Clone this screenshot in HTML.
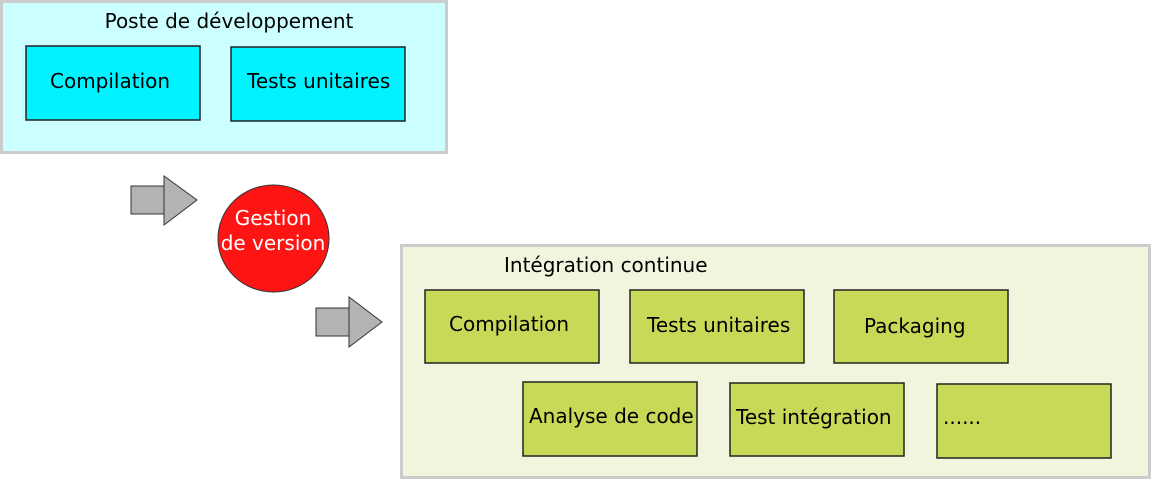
<!DOCTYPE html>
<html><head><meta charset="utf-8"><style>
html,body{margin:0;padding:0;background:#fff;width:1152px;height:480px;overflow:hidden}
text{font-family:"DejaVu Sans","Liberation Sans",sans-serif;font-size:20px;fill:#000}
</style></head><body>
<svg width="1152" height="480" viewBox="0 0 1152 480" xmlns="http://www.w3.org/2000/svg">
<rect x="1.5" y="1.5" width="445" height="151" fill="#ccffff" stroke="#cccccc" stroke-width="3"/>
<text x="229" y="28" text-anchor="middle">Poste de développement</text>
<rect x="26" y="46" width="174" height="74" fill="#00f3ff" stroke="#222" stroke-width="1.5"/>
<text x="50" y="88">Compilation</text>
<rect x="231" y="47" width="174" height="74" fill="#00f3ff" stroke="#222" stroke-width="1.5"/>
<text x="247" y="88">Tests unitaires</text>

<polygon points="131,186 164,186 164,176 197,200 164,225 164,214 131,214" fill="#b3b3b3" stroke="#333" stroke-width="1"/>
<line x1="164" y1="186" x2="164" y2="214" stroke="#333"/>
<ellipse cx="273.5" cy="238.5" rx="55.5" ry="53.5" fill="#ff1414" stroke="#333" stroke-width="1"/>
<text x="273" y="225" text-anchor="middle" style="fill:#fff">Gestion</text>
<text x="273" y="250" text-anchor="middle" style="fill:#fff">de version</text>
<polygon points="316,308 349,308 349,297 382,322 349,347 349,336 316,336" fill="#b3b3b3" stroke="#333" stroke-width="1"/>
<line x1="349" y1="308" x2="349" y2="336" stroke="#333"/>

<rect x="401.5" y="245.5" width="748" height="232" fill="#f2f5dd" stroke="#cccccc" stroke-width="3"/>
<text x="504" y="272">Intégration continue</text>
<g fill="#c8d957" stroke="#222" stroke-width="1.5">
<rect x="425" y="290" width="174" height="73"/>
<rect x="630" y="290" width="174" height="73"/>
<rect x="834" y="290" width="174" height="73"/>
<rect x="523" y="382" width="174" height="74"/>
<rect x="730" y="383" width="174" height="73"/>
<rect x="937" y="384" width="174" height="74"/>
</g>
<text x="449" y="331">Compilation</text>
<text x="647" y="332">Tests unitaires</text>
<text x="864" y="333">Packaging</text>
<text x="529" y="423">Analyse de code</text>
<text x="736" y="424">Test intégration</text>
<text x="943" y="424">......</text>
</svg>
</body></html>
